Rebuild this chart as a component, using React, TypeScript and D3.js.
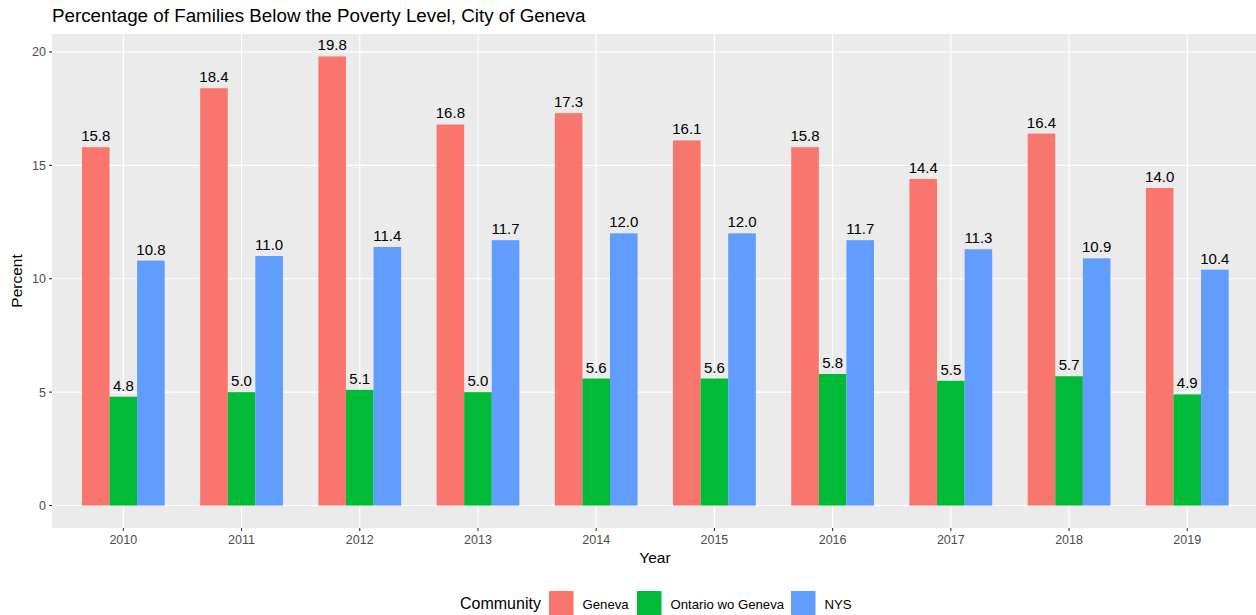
import React from 'react';
import * as d3 from 'd3';

const years = ['2010', '2011', '2012', '2013', '2014', '2015', '2016', '2017', '2018', '2019'];
const communities = ['Geneva', 'Ontario wo Geneva', 'NYS'];
const geneva = [15.8, 18.4, 19.8, 16.8, 17.3, 16.1, 15.8, 14.4, 16.4, 14.0];
const ontario = [4.8, 5.0, 5.1, 5.0, 5.6, 5.6, 5.8, 5.5, 5.7, 4.9];
const nys = [10.8, 11.0, 11.4, 11.7, 12.0, 12.0, 11.7, 11.3, 10.9, 10.4];
const yTicks = [0, 5, 10, 15, 20];
const colors = ['#F8766D', '#00BA38', '#619CFF'];

const W = 1256;
const H = 615;

export default function App() {
  const panel = { left: 52, top: 34, right: 1256, bottom: 528 };
  const series = [geneva, ontario, nys];

  // discrete x with ggplot's 0.6 expansion on each side
  const x = d3.scaleLinear().domain([-0.6, years.length - 1 + 0.6]).range([52.4, 1258.2]);
  const step = x(1) - x(0);
  const groupW = step * 0.7;
  const barW = groupW / 3;
  const y = d3.scaleLinear().domain([-0.99, 20.79]).range([panel.bottom, panel.top]);

  const font = 'Liberation Sans, Arial, Helvetica, sans-serif';

  return (
    <svg width={W} height={H} style={{ position: 'absolute', left: 0, top: 0, fontFamily: font }}>
      <rect x={0} y={0} width={W} height={H} fill="white" />
      <text x={52} y={22} fontSize={18.8} fill="black">
        Percentage of Families Below the Poverty Level, City of Geneva
      </text>
      <rect x={panel.left} y={panel.top} width={panel.right - panel.left} height={panel.bottom - panel.top} fill="#EBEBEB" />
      {yTicks.map(t => (
        <g key={t}>
          <line x1={panel.left} x2={panel.right} y1={y(t)} y2={y(t)} stroke="white" strokeWidth={1.1} />
          <line x1={panel.left - 3} x2={panel.left} y1={y(t)} y2={y(t)} stroke="#333333" strokeWidth={1.1} />
          <text x={panel.left - 6} y={y(t)} dy="0.35em" textAnchor="end" fontSize={12.5} fill="#4D4D4D">{t}</text>
        </g>
      ))}
      {years.map((yr, i) => (
        <g key={yr}>
          <line x1={x(i)} x2={x(i)} y1={panel.top} y2={panel.bottom} stroke="white" strokeWidth={1.1} />
          <line x1={x(i)} x2={x(i)} y1={panel.bottom} y2={panel.bottom + 3} stroke="#333333" strokeWidth={1.1} />
          <text x={x(i)} y={panel.bottom + 16} textAnchor="middle" fontSize={12.5} fill="#4D4D4D">{yr}</text>
        </g>
      ))}
      {series.map((vals, s) =>
        vals.map((v, i) => {
          const bx = x(i) - groupW / 2 + s * barW;
          return (
            <g key={`${s}-${i}`}>
              <rect x={bx} y={y(v)} width={barW} height={y(0) - y(v)} fill={colors[s]} />
              <text x={bx + barW / 2} y={y(v) - 6} textAnchor="middle" fontSize={15} fill="black">{v.toFixed(1)}</text>
            </g>
          );
        })
      )}
      <text x={655} y={563} textAnchor="middle" fontSize={15.5} fill="black">Year</text>
      <text transform={`translate(22,${(panel.top + panel.bottom) / 2}) rotate(-90)`} textAnchor="middle" fontSize={15.5} fill="black">Percent</text>
      <g>
        <text x={460} y={609} fontSize={16} fill="black">Community</text>
        {communities.map((c, k) => {
          const kx = [549, 637, 791][k];
          return (
            <g key={c}>
              <rect x={kx} y={591} width={24.5} height={24} fill={colors[k]} />
              <text x={kx + 33.5} y={609} fontSize={13.2} fill="black">{c}</text>
            </g>
          );
        })}
      </g>
    </svg>
  );
}
